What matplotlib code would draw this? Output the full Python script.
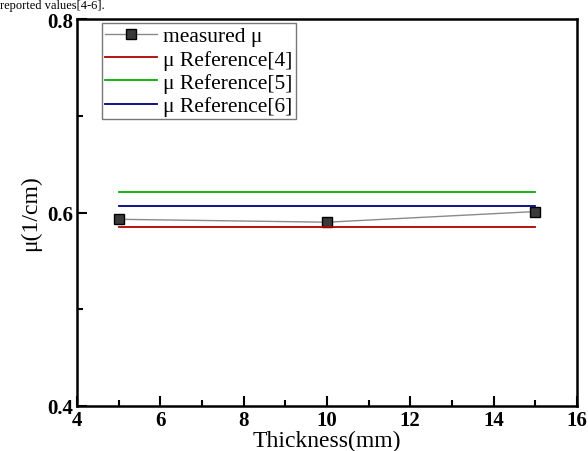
import matplotlib.pyplot as plt

plt.rcParams['font.family'] = ['Liberation Serif', 'DejaVu Serif']

thickness = [5, 10, 15]
measured = [0.593, 0.590, 0.601]
ref_x = [5, 15]
ref4 = [0.5855, 0.5855]
ref5 = [0.621, 0.621]
ref6 = [0.6066, 0.6066]

fig = plt.figure(figsize=(5.88, 4.52), dpi=100)
ax = fig.add_axes([0.131, 0.0996, 0.85, 0.856])

ax.plot(thickness, measured, color='#8a8a8a', lw=1, marker='s', ms=7,
        mfc='#3a3a3a', mec='black', mew=1, label='measured μ')
ax.plot(ref_x, ref4, color='#b00000', lw=1.3, label='μ Reference[4]')
ax.plot(ref_x, ref5, color='#00b000', lw=1.3, label='μ Reference[5]')
ax.plot(ref_x, ref6, color='#000080', lw=1.3, label='μ Reference[6]')

ax.set_xlim(4, 16)
ax.set_ylim(0.4, 0.8)
ax.set_xticks([4, 6, 8, 10, 12, 14, 16])
ax.set_xticks(range(5, 16, 2), minor=True)
ax.set_yticks([0.4, 0.6, 0.8])
ax.set_yticks([0.5, 0.7], minor=True)
ax.set_xticklabels(['4', '6', '8', '10', '12', '14', '16'], fontweight='bold', fontsize=15)
ax.set_yticklabels(['0.4', '0.6', '0.8'], fontweight='bold', fontsize=15)
ax.tick_params(which='major', direction='in', length=7, width=1.5, pad=3)
ax.tick_params(which='minor', direction='in', length=4, width=1.5)
for s in ax.spines.values():
    s.set_linewidth(1.8)

ax.set_xlabel('Thickness(mm)', fontsize=17, labelpad=0)
ax.set_ylabel('μ(1/cm)', fontsize=17, labelpad=4)

leg = ax.legend(loc='upper left', bbox_to_anchor=(0.05, 0.99), fontsize=15.5,
                frameon=True, fancybox=False, edgecolor='#555555',
                handlelength=2.4, handletextpad=0.3, borderpad=0.15,
                labelspacing=0.15, borderaxespad=0)
leg.get_frame().set_linewidth(1)

fig.text(0.0, 1.0, 'reported values[4-6].', fontsize=9, va='top', ha='left')

fig.savefig('out.png', dpi=100)
